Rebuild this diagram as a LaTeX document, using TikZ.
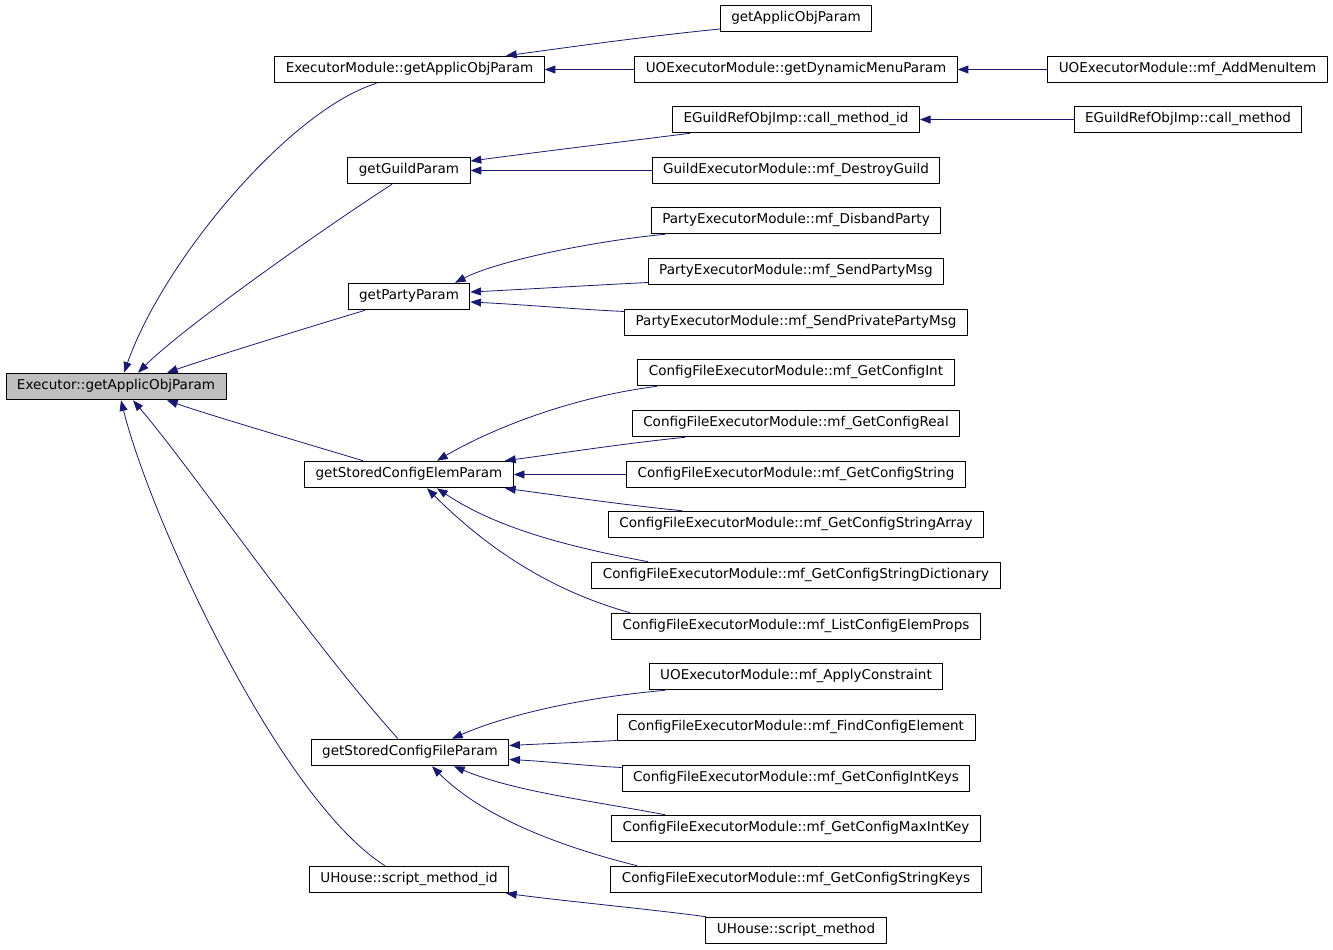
\documentclass[tikz,border=0pt]{standalone}
\usepackage{fontspec}
\setmainfont{DejaVu Sans}
\usetikzlibrary{arrows.meta,calc}
\definecolor{edgeblue}{HTML}{191970}
\definecolor{nodegray}{HTML}{BFBFBF}
\begin{document}
\begin{tikzpicture}[x=0.75pt, y=-0.75pt,
    fn/.style={draw=black, line width=0.7pt, fill=white, font=\fontsize{10.15}{12}\selectfont,
        inner xsep=8.25pt, inner ysep=0pt, minimum height=20pt, text height=7.4pt, text depth=2.5pt},
    call/.style={draw=edgeblue, line width=0.6pt, -{Triangle[length=8pt,width=6pt]}}]
    \path[use as bounding box, fill=white] (0,0) rectangle (1333,949);
    % nodes
    \node[fn, fill=nodegray] (exec) at (116,386.5) {Executor::getApplicObjParam};
    \node[fn] (emod) at (409.5,69.5) {ExecutorModule::getApplicObjParam};
    \node[fn] (gaop) at (796,18.5) {getApplicObjParam};
    \node[fn] (dynmenu) at (796,69.5) {UOExecutorModule::getDynamicMenuParam};
    \node[fn] (addmenu) at (1187.5,69.5) {UOExecutorModule::mf\_AddMenuItem};
    \node[fn] (guild) at (409,170.5) {getGuildParam};
    \node[fn] (callid) at (796,119.5) {EGuildRefObjImp::call\_method\_id};
    \node[fn] (callm) at (1188,119.5) {EGuildRefObjImp::call\_method};
    \node[fn] (destroy) at (796,170.5) {GuildExecutorModule::mf\_DestroyGuild};
    \node[fn] (disband) at (796,220.5) {PartyExecutorModule::mf\_DisbandParty};
    \node[fn] (party) at (409,296.5) {getPartyParam};
    \node[fn] (sendmsg) at (796,271.5) {PartyExecutorModule::mf\_SendPartyMsg};
    \node[fn] (sendpriv) at (796,322.5) {PartyExecutorModule::mf\_SendPrivatePartyMsg};
    \node[fn] (cfgint) at (796,372.5) {ConfigFileExecutorModule::mf\_GetConfigInt};
    \node[fn] (cfgreal) at (796,423.5) {ConfigFileExecutorModule::mf\_GetConfigReal};
    \node[fn] (elem) at (409,474.5) {getStoredConfigElemParam};
    \node[fn] (cfgstr) at (796,474.5) {ConfigFileExecutorModule::mf\_GetConfigString};
    \node[fn] (cfgarr) at (796,524.5) {ConfigFileExecutorModule::mf\_GetConfigStringArray};
    \node[fn] (cfgdict) at (796,575.5) {ConfigFileExecutorModule::mf\_GetConfigStringDictionary};
    \node[fn] (listprops) at (796,626.5) {ConfigFileExecutorModule::mf\_ListConfigElemProps};
    \node[fn] (applyc) at (796,676.5) {UOExecutorModule::mf\_ApplyConstraint};
    \node[fn] (findcfg) at (796,727.5) {ConfigFileExecutorModule::mf\_FindConfigElement};
    \node[fn] (fileparam) at (410,752.5) {getStoredConfigFileParam};
    \node[fn] (intkeys) at (796,778.5) {ConfigFileExecutorModule::mf\_GetConfigIntKeys};
    \node[fn] (maxint) at (796,828.5) {ConfigFileExecutorModule::mf\_GetConfigMaxIntKey};
    \node[fn] (strkeys) at (796,879.5) {ConfigFileExecutorModule::mf\_GetConfigStringKeys};
    \node[fn] (scriptid) at (409,879.5) {UHouse::script\_method\_id};
    \node[fn] (scriptm) at (796,930.5) {UHouse::script\_method};
    % calls into Executor::getApplicObjParam
    \draw[call] ($(emod.south)+(-33,0)$) .. controls +(-87,27) and +(40,-113) .. ($(exec.north)+(8,0)$);
    \draw[call] ($(guild.south)+(-17,0)$) .. controls +(-70,45) and +(45,-45) .. ($(exec.north)+(22,0)$);
    \draw[call] ($(party.south)+(-44,0)$) .. controls +(-60,18) and +(40,-14) .. ($(exec.north)+(51,0)$);
    \draw[call] ($(elem.north)+(-46,0)$) .. controls +(-60,-18) and +(40,14) .. ($(exec.south)+(51,0)$);
    \draw[call] ($(fileparam.north)+(-12,0)$) .. controls +(-90,-100) and +(60,70) .. ($(exec.south)+(17,0)$);
    \draw[call] ($(scriptid.north)+(-24,0)$) .. controls +(-105,-66) and +(30,120) .. ($(exec.south)+(5,0)$);
    % top rows
    \draw[call] ($(gaop.west)+(0,10.5)$) .. controls +(-80,8) and +(60,-8) .. ($(emod.north)+(96.5,0)$);
    \draw[call] (dynmenu.west) -- (emod.east);
    \draw[call] (addmenu.west) -- (dynmenu.east);
    \draw[call] ($(callid.south)+(-106,0)$) .. controls +(-80,10) and +(60,-8) .. ($(guild.east)+(0,-9.5)$);
    \draw[call] (callm.west) -- (callid.east);
    \draw[call] (destroy.west) -- (guild.east);
    % getPartyParam
    \draw[call] ($(disband.south)+(-131,0)$) .. controls +(-65,6) and +(45,-23) .. ($(party.north)+(46,0)$);
    \draw[call] ($(sendmsg.west)+(0,11)$) .. controls +(-60,3) and +(60,-3) .. ($(party.east)+(0,-4.5)$);
    \draw[call] ($(sendpriv.west)+(0,-11)$) .. controls +(-60,-3) and +(60,3) .. ($(party.east)+(0,5.5)$);
    % getStoredConfigElemParam
    \draw[call] ($(cfgint.south)+(-139,0)$) .. controls +(-80,10) and +(60,-35) .. ($(elem.north)+(28,0)$);
    \draw[call] ($(cfgreal.south)+(-111,0)$) .. controls +(-60,6) and +(60,-8) .. ($(elem.north)+(96,0)$);
    \draw[call] (cfgstr.west) -- (elem.east);
    \draw[call] ($(cfgarr.north)+(-114,0)$) .. controls +(-60,-6) and +(60,8) .. ($(elem.south)+(96,0)$);
    \draw[call] ($(cfgdict.north)+(-148,0)$) .. controls +(-80,-15) and +(60,40) .. ($(elem.south)+(28,0)$);
    \draw[call] ($(listprops.north)+(-166,0)$) .. controls +(-90,-25) and +(50,50) .. ($(elem.south)+(18,0)$);
    % getStoredConfigFileParam
    \draw[call] ($(applyc.south)+(-131,0)$) .. controls +(-90,8) and +(50,-22) .. ($(fileparam.north)+(42,0)$);
    \draw[call] ($(findcfg.west)+(0,13)$) .. controls +(-40,2) and +(40,-2) .. ($(fileparam.east)+(0,-7)$);
    \draw[call] ($(intkeys.west)+(0,-11)$) .. controls +(-40,-2) and +(40,2) .. ($(fileparam.east)+(0,7)$);
    \draw[call] ($(maxint.north)+(-131,0)$) .. controls +(-80,-15) and +(60,25) .. ($(fileparam.south)+(44,0)$);
    \draw[call] ($(strkeys.north)+(-159,0)$) .. controls +(-80,-20) and +(50,50) .. ($(fileparam.south)+(22,0)$);
    % UHouse
    \draw[call] ($(scriptm.north)+(-90,0)$) .. controls +(-60,-8) and +(60,8) .. ($(scriptid.south)+(97,0)$);
\end{tikzpicture}
\end{document}
